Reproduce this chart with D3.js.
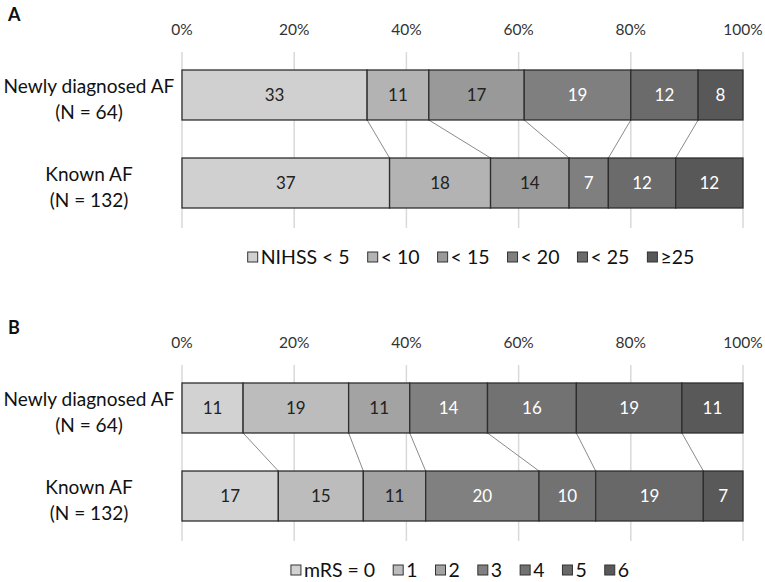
<!DOCTYPE html>
<html><head><meta charset="utf-8">
<script src="https://cdn.jsdelivr.net/npm/d3@7"></script>
<style>body{margin:0;background:#fff}svg{display:block}</style>
</head><body>
<svg id="c" width="765" height="582"></svg>
<script>
const groups = ["Newly diagnosed AF", "Known AF"];
const groupN = ["(N = 64)", "(N = 132)"];
const tickValues = [0, 0.2, 0.4, 0.6, 0.8, 1.0];
const tickLabels = ["0%", "20%", "40%", "60%", "80%", "100%"];

const nihssCats = ["NIHSS < 5", "< 10", "< 15", "< 20", "< 25", "≥25"];
const nihssNew = [33, 11, 17, 19, 12, 8];
const nihssKnown = [37, 18, 14, 7, 12, 12];
const nihssColors = ["#d0d0d0", "#b3b3b3", "#999999", "#7f7f7f", "#6b6b6b", "#585858"];

const mrsCats = ["mRS = 0", "1", "2", "3", "4", "5", "6"];
const mrsNew = [11, 19, 11, 14, 16, 19, 11];
const mrsKnown = [17, 15, 11, 20, 10, 19, 7];
const mrsColors = ["#d2d2d2", "#bcbcbc", "#a3a3a3", "#808080", "#727272", "#686868", "#595959"];

const FONT = "Lato, 'Open Sans', sans-serif";
const svg = d3.select("#c");
const x = d3.scaleLinear().domain([0, 1]).range([182, 743]);

// fit group label size so the longest label spans the reference width
const probe = svg.append("text").attr("font-family", FONT).attr("font-size", 20).text(groups[0]);
const labelSize = 20 * 171 / probe.node().getComputedTextLength();
probe.remove();

function drawPanel(cfg) {
  const g = svg.append("g");
  g.append("text").attr("x", 8).attr("y", cfg.top + 21)
    .attr("font-family", FONT).attr("font-weight", "bold").attr("font-size", 18)
    .attr("fill", "#111").text(cfg.letter);

  g.selectAll(".tl").data(tickValues).join("text")
    .attr("x", d => x(d)).attr("y", cfg.top + 35)
    .attr("text-anchor", "middle").attr("font-family", FONT).attr("font-size", 15.5)
    .attr("fill", "#333").text((d, i) => tickLabels[i]);

  g.selectAll(".gl").data(tickValues).join("line")
    .attr("x1", d => x(d)).attr("x2", d => x(d))
    .attr("y1", cfg.top + 52).attr("y2", cfg.top + 228)
    .attr("stroke", "#d9d9d9").attr("stroke-width", 1.5);

  const y = d3.scaleBand().domain(groups).range([cfg.top + 70, cfg.top + 208])
    .paddingInner(0.432).paddingOuter(0);

  const keys = cfg.cats.map((c, i) => i);
  const rows = groups.map((gname, gi) => {
    const o = { group: gname };
    keys.forEach(k => o[k] = cfg.values[gi][k]);
    return o;
  });
  const series = d3.stack().keys(keys).offset(d3.stackOffsetExpand)(rows);

  const conn = keys.slice(0, -1).map(k => ({
    x1: x(series[k][0][1]), x2: x(series[k][1][1])
  }));
  g.selectAll(".cn").data(conn).join("line")
    .attr("x1", d => d.x1).attr("x2", d => d.x2)
    .attr("y1", y(groups[0]) + y.bandwidth()).attr("y2", y(groups[1]))
    .attr("stroke", "#8a8a8a").attr("stroke-width", 1);

  series.forEach((s, k) => {
    g.selectAll(".b" + k).data(s).join("rect")
      .attr("x", d => x(d[0])).attr("width", d => x(d[1]) - x(d[0]))
      .attr("y", d => y(d.data.group)).attr("height", y.bandwidth())
      .attr("fill", cfg.colors[k]).attr("stroke", "#2e2e2e").attr("stroke-width", 1.3);
    g.selectAll(".t" + k).data(s).join("text")
      .attr("x", d => (x(d[0]) + x(d[1])) / 2)
      .attr("y", d => y(d.data.group) + y.bandwidth() / 2 + 6)
      .attr("text-anchor", "middle").attr("font-family", FONT).attr("font-size", 17)
      .attr("fill", k < 3 ? "#222" : "#ffffff")
      .text(d => d.data[k]);
  });

  groups.forEach((gname, gi) => {
    const cy = y(gname) + y.bandwidth() / 2;
    g.append("text").attr("x", 89).attr("y", cy - 2)
      .attr("text-anchor", "middle").attr("font-family", FONT).attr("font-size", labelSize)
      .attr("fill", "#111").text(gname);
    g.append("text").attr("x", 89).attr("y", cy + 24)
      .attr("text-anchor", "middle").attr("font-family", FONT).attr("font-size", labelSize)
      .attr("fill", "#111").text(groupN[gi]);
  });

  const lg = g.append("g");
  let cx = 0;
  cfg.cats.forEach((c, i) => {
    const item = lg.append("g").attr("transform", `translate(${cx},0)`);
    item.append("rect").attr("x", 0).attr("y", -5).attr("width", 10).attr("height", 10)
      .attr("fill", cfg.colors[i]).attr("stroke", "#333").attr("stroke-width", 1);
    const t = item.append("text").attr("x", 13).attr("y", 7)
      .attr("font-family", FONT).attr("font-size", 19.5).attr("fill", "#111").text(c);
    cx += 13 + t.node().getComputedTextLength() + cfg.legendGap;
  });
  const totalW = cx - cfg.legendGap;
  lg.attr("transform", `translate(${cfg.legendCenter - totalW / 2},${cfg.top + cfg.legendY})`);
}

drawPanel({ letter: "A", top: 0, cats: nihssCats, values: [nihssNew, nihssKnown],
  colors: nihssColors, legendCenter: 471, legendY: 257, legendGap: 18 });
drawPanel({ letter: "B", top: 313, cats: mrsCats, values: [mrsNew, mrsKnown],
  colors: mrsColors, legendCenter: 460, legendY: 257, legendGap: 18 });
</script>
</body></html>
